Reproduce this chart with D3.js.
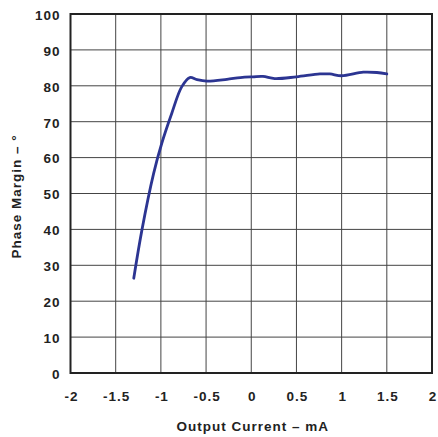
<!DOCTYPE html>
<html><head><meta charset="utf-8">
<script src="https://cdn.jsdelivr.net/npm/d3@7"></script>
<style>body{margin:0;background:#fff}text{font-family:"Liberation Sans",Arial,sans-serif;font-weight:bold;fill:#222}</style>
</head><body><svg id="c" width="438" height="437"></svg>
<script>
const currentMA = [-1.30, -1.21, -1.08, -0.99, -0.88, -0.77, -0.68, -0.60, -0.49, -0.27, -0.12, 0.02, 0.13, 0.26, 0.50, 0.76, 0.87, 1.00, 1.24, 1.39, 1.50];
const phaseMargin = [26.4, 39.8, 55.6, 64.0, 72.3, 79.7, 82.3, 81.7, 81.3, 81.8, 82.3, 82.5, 82.6, 82.0, 82.5, 83.3, 83.3, 82.8, 83.8, 83.7, 83.3];
const xTicks = [-2, -1.5, -1, -0.5, 0, 0.5, 1, 1.5, 2];
const yTicks = [0, 10, 20, 30, 40, 50, 60, 70, 80, 90, 100];
const xTitle = "Output Current – mA";
const yTitle = "Phase Margin – °";

const svg = d3.select("#c");
const L = 70.5, R = 432, T = 14, B = 373;
const FS = "13.5px", LS = "1px";
const x = d3.scaleLinear().domain([-2, 2]).range([L, R]);
const y = d3.scaleLinear().domain([0, 100]).range([B, T]);

// grid
svg.append("g").selectAll("line").data(xTicks).join("line")
  .attr("x1", d => x(d)).attr("x2", d => x(d)).attr("y1", T).attr("y2", B)
  .attr("stroke", "#444").attr("stroke-width", 1);
svg.append("g").selectAll("line").data(yTicks).join("line")
  .attr("y1", d => y(d)).attr("y2", d => y(d)).attr("x1", L).attr("x2", R)
  .attr("stroke", "#444").attr("stroke-width", 1);
// frame
svg.append("rect").attr("x", L).attr("y", T).attr("width", R - L).attr("height", B - T)
  .attr("fill", "none").attr("stroke", "#222").attr("stroke-width", 2);

function styleText(sel) {
  sel.style("font-size", FS).style("letter-spacing", LS).attr("fill", "#222")
    .style("font-family", '"Liberation Sans",Arial,sans-serif').style("font-weight", "bold");
}
const xAxis = svg.append("g").attr("transform", `translate(0.5,${B})`)
  .call(d3.axisBottom(x).tickValues(xTicks).tickSize(0).tickPadding(18.5).tickFormat(d => String(d)));
xAxis.select(".domain").remove();
xAxis.selectAll("text").call(styleText);
const yAxis = svg.append("g").attr("transform", `translate(${L},1)`)
  .call(d3.axisLeft(y).tickValues(yTicks).tickSize(0).tickPadding(10));
yAxis.select(".domain").remove();
yAxis.selectAll("text").call(styleText);

// titles
svg.append("text").attr("x", (L + R) / 2 + 1.5).attr("y", 430.5).attr("text-anchor", "middle")
  .call(styleText).text(xTitle);
svg.append("text").attr("transform", `translate(21,${(T + B) / 2 + 3}) rotate(-90)`).attr("text-anchor", "middle")
  .call(styleText).text(yTitle);

// curve
const data = currentMA.map((c, i) => [c, phaseMargin[i]]);
svg.append("path").datum(data)
  .attr("d", d3.line().x(d => x(d[0])).y(d => y(d[1])).curve(d3.curveCatmullRom.alpha(0.5)))
  .attr("fill", "none").attr("stroke", "#2c3592").attr("stroke-width", 2.8).attr("stroke-linecap", "round");
</script></body></html>
